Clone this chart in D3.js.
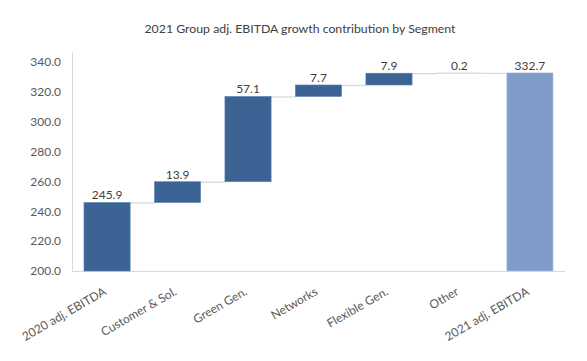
<!DOCTYPE html>
<html><head><meta charset="utf-8">
<script src="https://cdn.jsdelivr.net/npm/d3@7"></script>
<style>body{margin:0;background:#fff}svg{display:block}text{font-family:Lato,"Open Sans",sans-serif}</style>
</head><body>
<svg id="c" width="587" height="361"></svg>
<script>
const categories = ["2020 adj. EBITDA","Customer & Sol.","Green Gen.","Networks","Flexible Gen.","Other","2021 adj. EBITDA"];
const values = [245.9, 13.9, 57.1, 7.7, 7.9, 0.2, 332.7];
const kinds = ["total","delta","delta","delta","delta","delta","total"];
const yTicks = [200,220,240,260,280,300,320,340];
const title = "2021 Group adj. EBITDA growth contribution by Segment";

const svg = d3.select("#c");
const m = {l:72, r:22};
const W = 587, H = 361;
const x = d3.scaleBand().domain(categories).range([m.l, W-m.r]).paddingInner(0.345).paddingOuter(0.17);
const y = d3.scaleLinear().domain([200,340]).range([271,62]);

let run = 0;
const bars = categories.map((c,i)=>{
  let lo, hi;
  if (kinds[i]==="total"){ lo=200; hi=values[i]; run=values[i]; }
  else { lo=run; hi=run+values[i]; run=hi; }
  return {c, lo, hi, v:values[i], kind:kinds[i], top:run};
});

svg.append("line").attr("x1",m.l+0.5).attr("x2",m.l+0.5).attr("y1",52).attr("y2",271).attr("stroke","#D9D9D9");
svg.append("line").attr("x1",m.l).attr("x2",W-m.r).attr("y1",271.5).attr("y2",271.5).attr("stroke","#D9D9D9");

svg.append("g").selectAll("text").data(yTicks).join("text")
  .attr("x",61).attr("y",d=>y(d)).attr("dy","0.36em").attr("text-anchor","end")
  .attr("font-size",12).attr("fill","#595959").text(d=>d.toFixed(1));

svg.append("g").selectAll("line").data(bars.slice(0,-1)).join("line")
  .attr("x1",(d)=>x(d.c)+x.bandwidth()).attr("x2",(d,i)=>x(categories[i+1]))
  .attr("y1",d=>y(d.top)+0.5).attr("y2",d=>y(d.top)+0.5)
  .attr("stroke","#D9D9D9").attr("stroke-width",1.3);

svg.append("g").selectAll("rect").data(bars).join("rect")
  .attr("x",d=>x(d.c)).attr("width",x.bandwidth())
  .attr("y",d=>y(d.hi)).attr("height",d=>y(d.lo)-y(d.hi))
  .attr("fill",d=>d.c===categories[6]?"#7F9CC8":"#3B6494")
  .attr("stroke",d=>d.c===categories[6]?"#B4C7E7":(d.c==="Other"?"none":"#5B7FB0")).attr("stroke-width",0.6);

svg.append("g").selectAll("text").data(bars).join("text")
  .attr("x",d=>x(d.c)+x.bandwidth()/2).attr("y",d=>y(d.hi)-3)
  .attr("text-anchor","middle").attr("font-size",12).attr("fill","#404040")
  .text(d=>d.v.toFixed(1));

svg.append("g").selectAll("text").data(categories).join("text")
  .attr("transform",d=>`translate(${x(d)+x.bandwidth()/2},${294}) rotate(-30)`)
  .attr("text-anchor","end").attr("font-size",12).attr("fill","#595959").text(d=>d);

svg.append("text").attr("x",300).attr("y",33).attr("text-anchor","middle")
  .attr("font-size",12.3).attr("fill","#404040").text(title);
</script>
</body></html>
